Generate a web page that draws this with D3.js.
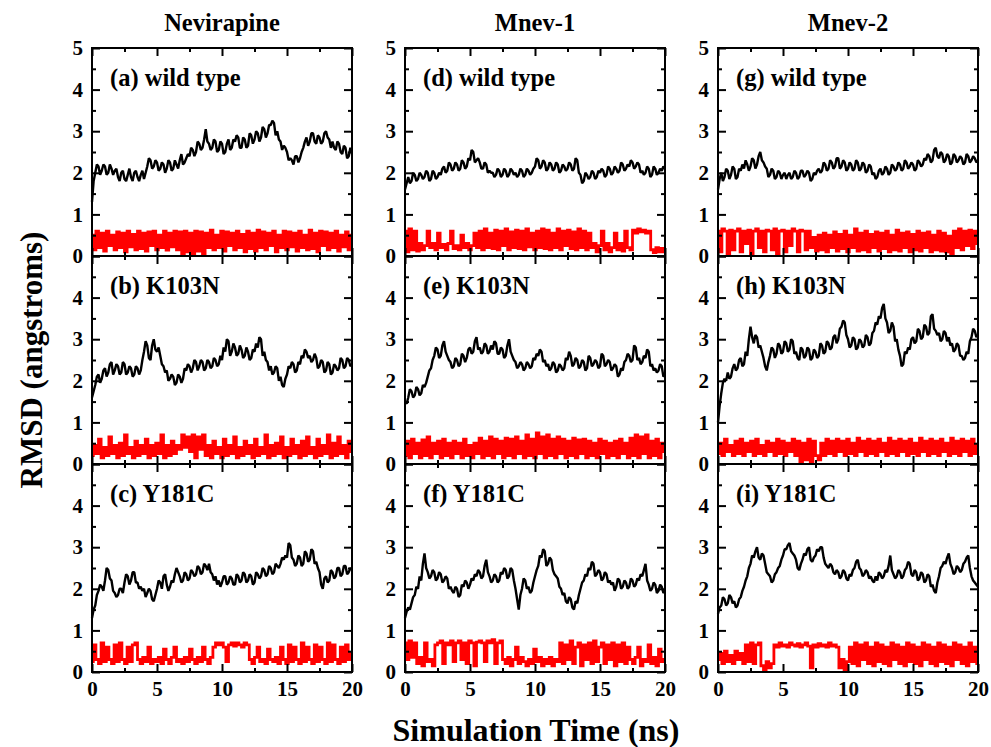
<!DOCTYPE html>
<html>
  <head>
    <meta charset="utf-8">
    <title>RMSD panels</title>
    <script src="https://d3js.org/d3.v7.min.js"></script>
    <style>
      body { margin: 0; background: #fff; }
    </style>
  </head>
  <body>
    <div id="chart"></div>
    <script>
      // column / row labels
      const columns = ["Nevirapine", "Mnev-1", "Mnev-2"];
      const labels = ["(a) wild type", "(b) K103N", "(c) Y181C",
                      "(d) wild type", "(e) K103N", "(f) Y181C",
                      "(g) wild type", "(h) K103N", "(i) Y181C"];
      const xTicks = [0, 5, 10, 15, 20];
      const xMinor = [2.5, 7.5, 12.5, 17.5];
      const yTicks = [0, 1, 2, 3, 4, 5];
      const yMinor = [0.5, 1.5, 2.5, 3.5, 4.5];

      // black traces, one value every 0.125 ns
      const blackA = [1.3,1.8,2.0,2.2,2.15,1.95,2.05,2.2,2.15,1.95,2.0,2.2,2.1,1.95,2.05,2.1,1.9,1.8,2.0,2.05,
        1.85,1.8,1.95,2.1,1.9,1.8,2.0,2.05,1.9,1.8,1.95,2.05,1.85,2.0,2.15,2.35,2.3,2.1,2.15,2.3,
        2.25,2.05,2.1,2.25,2.2,2.0,2.1,2.3,2.25,2.05,2.1,2.3,2.2,2.1,2.3,2.45,2.2,2.25,2.35,2.45,
        2.4,2.6,2.55,2.4,2.5,2.75,2.7,2.55,2.6,2.8,3.05,2.75,2.7,2.55,2.6,2.8,2.75,2.5,2.55,2.75,
        2.7,2.45,2.5,2.7,2.8,2.55,2.6,2.8,2.75,2.9,2.85,2.6,2.6,2.85,2.8,2.6,2.65,2.95,2.9,2.7,
        2.8,3.0,2.95,2.75,2.85,3.1,3.05,2.85,2.95,3.15,3.15,3.25,3.2,2.9,3.0,2.8,2.75,2.55,2.65,2.6,
        2.5,2.3,2.35,2.3,2.2,2.4,2.4,2.25,2.35,2.5,2.6,2.75,2.85,2.65,2.75,2.95,2.95,2.75,2.7,2.9,
        2.85,2.7,2.75,2.95,3.0,2.85,2.8,2.6,2.75,2.6,2.55,2.75,2.7,2.5,2.45,2.65,2.6,2.35,2.4,2.6,2.5];
      const blackB = [1.6,1.75,1.9,2.1,2.15,1.95,2.05,2.25,2.3,2.1,2.2,2.4,2.45,2.15,2.25,2.4,2.35,2.15,2.2,2.45,
        2.4,2.15,2.2,2.35,2.3,2.1,2.15,2.35,2.3,2.15,2.25,2.5,2.7,2.95,2.85,2.55,2.5,2.85,3.0,2.75,
        2.7,2.8,2.6,2.4,2.35,2.2,2.25,2.0,2.05,2.15,2.1,1.9,1.95,2.15,2.1,1.95,2.05,2.3,2.25,2.4,
        2.35,2.2,2.3,2.5,2.45,2.25,2.35,2.5,2.45,2.25,2.3,2.5,2.45,2.3,2.35,2.55,2.5,2.35,2.4,2.6,
        2.5,2.8,2.7,3.0,2.95,2.6,2.7,2.9,2.8,2.6,2.65,2.85,2.75,2.55,2.6,2.8,2.7,2.5,2.55,2.75,
        2.7,2.9,2.8,3.05,3.0,2.6,2.7,2.5,2.45,2.25,2.35,2.15,2.2,2.35,2.3,2.0,2.1,1.9,1.85,2.05,
        2.15,2.35,2.3,2.45,2.4,2.2,2.25,2.45,2.4,2.6,2.55,2.75,2.7,2.55,2.6,2.45,2.5,2.65,2.55,2.3,
        2.35,2.5,2.45,2.2,2.25,2.45,2.4,2.15,2.2,2.4,2.35,2.25,2.3,2.55,2.5,2.3,2.35,2.55,2.5,2.35,2.4];
      const blackC = [1.3,1.5,1.6,1.85,1.95,2.1,2.05,1.95,2.2,2.5,2.45,2.25,2.2,1.95,1.9,1.8,1.85,2.0,2.0,1.9,
        2.15,2.35,2.3,2.1,2.2,2.4,2.4,2.15,2.15,2.0,2.05,1.95,2.0,1.8,1.9,2.0,1.95,1.75,1.7,1.85,
        2.0,2.2,2.15,2.0,2.3,2.35,2.1,1.95,2.05,2.2,2.15,2.35,2.5,2.4,2.3,2.15,2.2,2.4,2.35,2.2,
        2.25,2.45,2.4,2.3,2.35,2.55,2.5,2.35,2.4,2.6,2.55,2.45,2.6,2.4,2.35,2.2,2.3,2.1,2.2,2.05,
        2.15,2.3,2.3,2.1,2.15,2.3,2.25,2.1,2.1,2.35,2.3,2.15,2.2,2.4,2.35,2.15,2.2,2.35,2.3,2.1,
        2.15,2.4,2.35,2.25,2.3,2.5,2.45,2.3,2.35,2.55,2.5,2.35,2.4,2.6,2.55,2.5,2.6,2.75,2.7,2.8,
        2.75,3.1,3.05,2.75,2.7,2.55,2.6,2.8,2.75,2.55,2.6,2.9,2.85,2.65,2.7,2.95,2.9,2.6,2.65,2.5,
        2.4,2.1,2.0,2.25,2.3,2.15,2.2,2.45,2.4,2.25,2.3,2.5,2.5,2.3,2.35,2.55,2.55,2.35,2.4,2.5,2.45];
      const blackD = [1.6,1.75,1.9,1.75,1.8,2.0,1.95,1.8,1.85,2.0,1.95,1.85,1.9,2.05,2.0,1.8,1.85,2.05,2.0,1.85,
        1.9,2.0,1.95,2.1,2.15,2.0,2.05,2.25,2.2,2.05,2.1,2.25,2.2,2.05,2.1,2.3,2.25,2.1,2.15,2.35,
        2.3,2.55,2.5,2.25,2.3,2.35,2.25,2.1,2.1,2.25,2.2,2.0,2.05,2.0,2.0,1.9,1.95,2.1,2.05,1.9,
        1.95,2.1,2.05,1.9,1.95,2.1,2.05,1.95,2.0,1.9,1.95,2.1,2.05,1.9,1.95,2.1,2.05,1.95,2.0,2.1,
        2.15,2.35,2.3,2.1,2.15,2.3,2.25,2.05,2.1,2.25,2.2,2.05,2.1,2.25,2.2,2.0,2.05,2.2,2.15,2.05,
        2.1,2.25,2.2,2.05,2.1,2.35,2.3,2.0,1.95,1.75,1.8,2.0,1.95,1.85,1.9,2.05,2.0,1.85,1.9,2.05,
        2.0,2.1,2.05,1.9,1.95,2.15,2.1,1.95,2.0,2.15,2.1,2.0,2.05,2.25,2.2,2.05,2.1,2.2,2.15,2.3,
        2.25,2.1,2.15,2.25,2.2,2.0,2.05,1.95,2.0,2.15,2.1,1.9,1.95,2.15,2.1,1.95,2.0,2.1,2.05,2.15,2.1];
      const blackE = [1.5,1.45,1.6,1.8,1.75,1.6,1.65,1.85,1.8,1.65,1.7,1.9,1.85,1.95,2.1,2.25,2.3,2.5,2.6,2.8,
        2.75,2.55,2.6,2.85,2.95,2.7,2.6,2.5,2.45,2.3,2.35,2.55,2.5,2.35,2.4,2.65,2.6,2.45,2.55,2.75,
        2.8,2.65,2.7,2.95,3.05,2.75,2.8,2.65,2.7,2.9,2.85,2.65,2.7,2.85,2.75,2.95,2.9,2.65,2.65,2.8,
        2.75,2.55,2.6,2.85,3.0,2.7,2.6,2.5,2.45,2.3,2.35,2.45,2.4,2.25,2.3,2.45,2.4,2.3,2.35,2.55,
        2.5,2.65,2.6,2.75,2.7,2.45,2.5,2.35,2.4,2.25,2.3,2.45,2.4,2.2,2.25,2.4,2.35,2.25,2.3,2.55,
        2.5,2.7,2.6,2.35,2.4,2.55,2.5,2.3,2.35,2.5,2.45,2.25,2.3,2.6,2.55,2.35,2.4,2.5,2.45,2.3,
        2.35,2.65,2.6,2.35,2.4,2.5,2.45,2.25,2.3,2.4,2.35,2.1,2.15,2.3,2.25,2.45,2.5,2.65,2.6,2.45,
        2.5,2.85,2.8,2.5,2.55,2.4,2.45,2.6,2.55,2.75,2.7,2.35,2.4,2.25,2.3,2.2,2.25,2.4,2.35,2.1,2.15];
      const blackF = [1.3,1.45,1.55,1.5,1.65,1.8,1.85,2.05,2.0,2.3,2.2,2.6,2.85,2.5,2.4,2.25,2.3,2.45,2.4,2.2,
        2.25,2.4,2.35,2.15,2.2,2.3,2.25,2.0,2.05,1.95,1.9,2.05,2.0,1.8,1.85,2.1,2.05,2.2,2.15,2.0,
        2.1,2.25,2.2,2.35,2.3,2.45,2.4,2.25,2.3,2.55,2.7,2.4,2.3,2.15,2.2,2.35,2.3,2.15,2.2,2.4,
        2.35,2.5,2.45,2.25,2.3,2.5,2.45,2.2,2.0,1.75,1.5,1.85,2.0,2.25,2.2,2.0,2.05,1.9,1.95,2.15,
        2.3,2.45,2.55,2.8,2.75,2.95,2.9,2.55,2.6,2.75,2.7,2.45,2.35,2.3,2.25,2.05,2.0,1.85,1.9,1.7,
        1.65,1.8,1.75,1.55,1.5,1.7,1.65,1.85,2.0,2.15,2.2,2.35,2.3,2.5,2.45,2.65,2.6,2.3,2.35,2.45,
        2.4,2.2,2.25,2.4,2.35,2.15,2.2,2.1,2.15,1.95,2.05,2.25,2.2,2.0,2.05,2.2,2.15,2.0,2.05,2.25,
        2.2,2.05,2.1,2.25,2.2,2.35,2.3,2.45,2.6,2.2,2.1,1.95,2.0,2.15,2.1,1.9,1.95,2.1,2.05,1.9,1.95];
      const blackG = [1.6,1.85,2.0,1.8,1.9,2.1,2.05,1.85,1.95,2.15,2.1,1.85,1.9,2.1,2.05,2.2,2.1,2.3,2.2,2.05,
        2.15,2.35,2.3,2.1,2.2,2.4,2.5,2.3,2.25,2.15,2.1,1.9,1.95,2.1,2.05,1.85,1.9,2.05,2.0,1.85,
        1.95,2.0,1.85,1.95,2.0,1.85,1.9,2.05,2.0,1.85,1.9,2.05,2.05,1.9,1.95,2.05,2.0,1.8,1.85,2.0,
        1.95,2.05,2.1,2.0,2.05,2.25,2.2,2.05,2.1,2.3,2.25,2.1,2.15,2.35,2.35,2.1,2.15,2.3,2.25,2.05,
        2.1,2.25,2.2,2.05,2.1,2.3,2.25,2.05,2.1,2.25,2.2,2.0,2.05,2.2,2.15,1.95,2.0,1.85,1.9,2.05,
        2.1,1.95,2.0,2.15,2.1,1.95,2.0,2.2,2.15,2.05,2.1,2.25,2.2,2.05,2.1,2.3,2.25,2.1,2.15,2.25,
        2.2,2.05,2.1,2.3,2.25,2.15,2.2,2.35,2.3,2.45,2.4,2.25,2.3,2.55,2.6,2.4,2.35,2.5,2.45,2.25,
        2.3,2.45,2.4,2.2,2.25,2.45,2.4,2.25,2.3,2.4,2.35,2.2,2.25,2.45,2.4,2.25,2.3,2.4,2.35,2.25,2.3];
      const blackH = [1.0,1.4,1.7,1.95,2.05,2.0,2.2,2.05,2.1,2.3,2.4,2.25,2.3,2.5,2.55,2.35,2.4,2.7,2.6,3.0,
        3.3,3.05,2.9,3.1,3.05,2.8,2.85,2.7,2.55,2.35,2.25,2.45,2.6,2.8,2.75,2.55,2.65,2.9,2.85,2.65,
        2.7,2.95,2.9,2.7,2.75,3.0,2.95,2.65,2.7,2.55,2.5,2.8,2.75,2.55,2.6,2.8,2.75,2.5,2.55,2.75,
        2.7,2.55,2.6,2.9,2.85,2.65,2.7,2.95,2.9,2.75,2.8,3.05,3.1,2.9,3.0,3.25,3.3,3.45,3.4,3.1,
        3.0,2.8,2.85,3.05,3.0,2.75,2.8,3.0,2.95,2.8,2.85,3.1,3.05,2.85,2.9,3.15,3.2,3.4,3.35,3.55,
        3.5,3.75,3.85,3.5,3.4,3.15,3.2,3.4,3.3,2.95,3.0,2.75,2.6,2.35,2.4,2.7,2.65,2.8,2.75,3.0,
        3.05,2.9,2.95,3.25,3.2,3.0,3.05,3.35,3.3,3.1,3.15,3.55,3.6,3.25,3.2,3.1,3.15,2.95,3.0,3.2,
        3.15,2.95,3.05,2.85,2.9,2.7,2.75,2.9,2.85,2.6,2.6,2.5,2.55,2.7,2.65,2.95,3.05,3.25,3.2,3.05,3.1];
      const blackI = [1.4,1.55,1.6,1.8,1.75,1.6,1.65,1.85,1.8,1.65,1.7,1.55,1.6,1.75,1.8,1.95,2.05,2.2,2.3,2.5,
        2.6,2.8,2.75,2.9,3.0,2.75,2.7,2.85,2.8,2.6,2.4,2.35,2.3,2.15,2.2,2.35,2.4,2.5,2.55,2.7,
        2.8,2.95,2.95,3.05,3.1,2.9,2.85,2.8,2.7,2.5,2.45,2.6,2.7,2.85,2.8,2.95,3.0,2.7,2.65,2.75,
        2.8,2.95,2.9,3.0,3.0,2.75,2.6,2.55,2.5,2.6,2.55,2.4,2.35,2.45,2.4,2.25,2.3,2.45,2.4,2.25,
        2.2,2.35,2.3,2.45,2.5,2.65,2.7,2.5,2.45,2.3,2.35,2.45,2.4,2.25,2.3,2.2,2.15,2.3,2.2,2.4,
        2.35,2.25,2.3,2.45,2.4,2.55,2.8,2.45,2.35,2.25,2.3,2.45,2.4,2.25,2.3,2.45,2.5,2.65,2.6,2.35,
        2.3,2.45,2.4,2.2,2.25,2.4,2.35,2.15,2.2,2.35,2.3,2.05,2.1,1.95,1.9,2.15,2.3,2.5,2.55,2.65,
        2.6,2.75,2.85,2.6,2.5,2.35,2.4,2.55,2.5,2.4,2.45,2.6,2.65,2.75,2.8,2.5,2.3,2.2,2.15,2.1,2.05];

      // red traces, one value every 0.2 ns
      const redA = [0.5,0.15,0.6,0.2,0.55,0.12,0.6,0.25,0.5,0.15,0.58,0.2,0.55,0.1,0.6,0.22,0.52,0.15,0.6,0.18,
        0.55,0.12,0.58,0.25,0.6,0.15,0.5,0.2,0.6,0.14,0.55,0.22,0.6,0.15,0.58,0.05,0.6,0.1,0.55,0.05,
        0.6,0.12,0.58,0.05,0.55,0.2,0.62,0.15,0.5,0.2,0.6,0.12,0.58,0.25,0.55,0.15,0.6,0.2,0.52,0.1,
        0.6,0.18,0.55,0.12,0.62,0.2,0.58,0.15,0.55,0.25,0.6,0.1,0.5,0.2,0.6,0.15,0.58,0.22,0.55,0.12,
        0.6,0.2,0.5,0.15,0.62,0.18,0.55,0.1,0.6,0.25,0.58,0.15,0.55,0.2,0.6,0.12,0.5,0.22,0.58,0.15,0.5];
      const redB = [0.2,0.45,0.25,0.6,0.15,0.4,0.2,0.65,0.25,0.45,0.15,0.5,0.2,0.7,0.25,0.4,0.15,0.55,0.2,0.45,
        0.25,0.6,0.15,0.45,0.2,0.5,0.25,0.7,0.15,0.45,0.2,0.55,0.25,0.45,0.35,0.7,0.4,0.65,0.3,0.7,
        0.15,0.65,0.35,0.7,0.2,0.45,0.15,0.55,0.25,0.4,0.15,0.6,0.2,0.45,0.25,0.65,0.15,0.4,0.2,0.55,
        0.25,0.45,0.15,0.6,0.2,0.4,0.25,0.7,0.15,0.45,0.2,0.5,0.25,0.65,0.15,0.4,0.2,0.6,0.25,0.45,
        0.15,0.55,0.2,0.65,0.25,0.4,0.15,0.6,0.2,0.45,0.25,0.7,0.15,0.5,0.2,0.65,0.25,0.45,0.15,0.55,0.3];
      const redC = [0.25,0.65,0.3,0.2,0.7,0.25,0.6,0.3,0.2,0.65,0.25,0.7,0.3,0.2,0.6,0.25,0.65,0.7,
        0.3,0.2,0.35,0.25,0.6,0.2,0.3,0.25,0.35,0.2,0.55,0.3,0.2,0.35,0.6,0.25,0.3,0.2,0.35,0.25,0.55,0.3,0.2,0.35,0.25,0.6,0.3,0.2,0.35,
        0.6,0.7,0.65,0.7,0.6,0.25,0.65,0.7,0.62,0.7,0.65,0.6,0.7,0.65,
        0.3,0.2,0.35,0.6,0.25,0.3,0.2,0.55,0.3,0.25,0.35,0.2,0.6,0.3,
        0.2,0.65,0.25,0.6,0.3,0.2,0.7,0.25,0.6,0.3,0.2,0.65,0.25,0.6,0.3,0.2,0.7,0.25,0.65,0.3,0.2,0.6,0.25,0.65,0.3,0.45];
      const redD = [0.6,0.1,0.65,0.15,0.6,0.12,
        0.3,0.15,0.25,0.6,0.2,0.3,0.15,0.55,0.2,0.28,0.15,0.3,0.6,0.18,0.25,0.15,0.5,0.2,0.3,0.15,0.25,0.55,0.2,
        0.6,0.15,0.65,0.2,0.55,0.18,0.62,0.15,0.6,0.25,0.65,0.15,0.58,0.2,0.62,0.18,0.6,0.15,0.65,0.22,0.55,0.15,
        0.6,0.2,0.65,0.18,0.62,0.15,0.55,0.2,0.65,0.15,0.6,0.25,0.62,0.18,0.58,0.15,0.65,0.2,0.6,0.15,0.55,0.2,
        0.3,0.1,0.25,0.6,0.15,0.3,0.1,0.2,0.55,0.15,0.3,0.12,0.6,0.2,0.15,
        0.62,0.55,0.65,0.58,0.62,0.55,0.6,
        0.15,0.08,0.2,0.1,0.18,0.1];
      const redE = [0.2,0.55,0.15,0.6,0.25,0.5,0.15,0.58,0.2,0.65,0.15,0.5,0.25,0.55,0.15,0.6,0.2,0.5,0.15,0.55,
        0.25,0.5,0.15,0.6,0.2,0.45,0.15,0.5,0.25,0.62,0.15,0.55,0.2,0.65,0.15,0.6,0.25,0.55,0.15,0.62,
        0.2,0.6,0.15,0.65,0.25,0.55,0.15,0.7,0.2,0.6,0.15,0.75,0.25,0.65,0.15,0.7,0.2,0.6,0.15,0.65,
        0.25,0.6,0.15,0.55,0.2,0.62,0.15,0.58,0.25,0.6,0.15,0.55,0.2,0.5,0.15,0.6,0.25,0.55,0.15,0.5,
        0.2,0.55,0.15,0.6,0.25,0.5,0.15,0.62,0.2,0.7,0.15,0.65,0.25,0.7,0.15,0.55,0.2,0.6,0.15,0.5,0.3];
      const redF = [0.7,0.3,0.75,0.35,0.7,
        0.2,0.35,0.15,0.7,0.25,0.3,0.15,0.65,
        0.7,0.75,0.2,0.7,0.65,0.75,0.25,0.7,0.75,0.3,0.7,0.2,0.75,0.7,0.15,0.72,0.75,0.7,0.25,0.75,0.7,0.78,0.2,0.7,0.75,
        0.3,0.2,0.35,0.15,0.3,0.6,0.2,0.35,0.25,0.15,0.3,0.2,0.55,0.25,0.35,0.15,0.3,0.2,0.35,0.15,0.3,0.25,
        0.7,0.2,0.65,0.3,0.75,0.2,0.6,0.7,0.15,0.65,0.3,0.7,0.2,0.75,0.25,0.6,0.7,0.2,0.65,0.3,0.7,0.15,0.65,0.25,0.7,0.2,0.6,0.3,
        0.2,0.35,0.6,0.15,0.3,0.25,0.65,0.2,0.35,0.15,0.55,0.25,0.3];
      const redG = [0.6,0.1,0.65,0.6,0.05,0.62,0.15,0.6,0.65,0.1,0.6,0.3,0.62,0.05,0.6,0.65,0.2,0.6,0.1,0.62,
        0.6,0.15,0.65,0.05,0.6,0.62,0.1,0.6,0.25,0.65,0.6,0.1,0.62,0.6,0.15,0.6,
        0.2,0.45,0.12,0.5,0.15,0.55,0.1,0.5,0.2,0.58,0.12,0.52,0.18,0.6,0.1,0.5,0.2,0.65,0.12,0.55,
        0.15,0.6,0.1,0.52,0.2,0.58,0.12,0.55,0.18,0.6,0.1,0.5,0.15,0.62,0.12,0.55,0.2,0.58,0.1,0.52,
        0.15,0.6,0.12,0.55,0.2,0.58,0.1,0.5,0.15,0.6,0.12,0.55,0.1,0.48,0.05,0.6,0.2,0.65,0.15,0.6,
        0.25,0.62,0.18,0.6,0.3];
      const redH = [0.25,0.5,0.2,0.6,0.3,0.45,0.2,0.55,0.25,0.6,0.2,0.5,0.3,0.55,0.2,0.6,0.25,0.45,0.2,0.55,
        0.3,0.5,0.2,0.6,0.25,0.55,0.2,0.5,0.3,0.6,0.2,0.55,0.05,0.5,0.1,0.6,0.05,0.55,0.2,0.1,
        0.5,0.2,0.6,0.25,0.55,0.2,0.6,0.3,0.55,0.2,0.6,0.25,0.5,0.2,0.62,0.3,0.55,0.2,0.6,0.25,
        0.55,0.2,0.6,0.3,0.5,0.2,0.62,0.25,0.55,0.2,0.6,0.3,0.55,0.2,0.6,0.25,0.5,0.2,0.62,0.3,
        0.55,0.2,0.6,0.25,0.55,0.2,0.6,0.3,0.5,0.2,0.62,0.25,0.55,0.2,0.6,0.3,0.55,0.2,0.6,0.25,0.45];
      const redI = [0.3,0.45,0.2,0.5,0.25,0.4,0.2,0.5,0.3,0.45,
        0.2,0.65,0.25,0.7,0.2,0.65,0.7,
        0.15,0.05,0.25,0.1,0.2,
        0.65,0.6,0.7,0.62,0.65,0.6,0.7,0.65,0.62,0.68,0.6,0.65,0.7,0.62,0.1,0.65,0.6,0.68,0.62,0.65,0.6,0.7,0.62,0.65,0.6,
        0.1,0.3,0.05,0.25,
        0.6,0.2,0.7,0.15,0.65,0.3,0.7,0.2,0.6,0.15,0.7,0.25,0.65,0.2,0.6,0.15,0.7,0.3,0.65,0.2,
        0.6,0.15,0.7,0.25,0.65,0.2,0.6,0.15,0.7,0.3,0.65,0.2,0.6,0.15,0.7,0.25,0.65,0.2,0.6,0.15,
        0.7,0.3,0.65,0.2,0.6,0.15,0.7,0.25,0.6,0.2];

      const blacks = [blackA, blackB, blackC, blackD, blackE, blackF, blackG, blackH, blackI];
      const reds = [redA, redB, redC, redD, redE, redF, redG, redH, redI];

      const width = 991, height = 747;
      const colX = [92, 405, 718], rowY = [48, 256, 464];
      const pw = 260, ph = 208;
      const font = '"Liberation Serif", "Times New Roman", Times, serif';

      const svg = d3.select("#chart")
        .append("svg")
        .attr("width", width)
        .attr("height", height)
        .attr("font-family", font)
        .attr("font-weight", "bold");

      blacks.forEach((black, k) => {
        const col = Math.floor(k / 3), row = k % 3;
        const x0 = colX[col], y0 = rowY[row];
        const x = d3.scaleLinear().domain([0, 20]).range([x0, x0 + pw]);
        const y = d3.scaleLinear().domain([0, 5]).range([y0 + ph, y0]);
        const g = svg.append("g");

        const line = d3.line()
          .x((d, i, arr) => x(i * 20 / (arr.length - 1)))
          .y(d => y(d));

        // red trace flips fast, so draw it as steps (dense vertical strokes)
        g.append("path").datum(reds[k])
          .attr("d", line.curve(d3.curveStep)).attr("fill", "none")
          .attr("stroke", "#ff0000").attr("stroke-width", 2.8);
        g.append("path").datum(black)
          .attr("d", line.curve(d3.curveLinear)).attr("fill", "none")
          .attr("stroke", "#000").attr("stroke-width", 2.4)
          .attr("stroke-linejoin", "bevel");

        // inward ticks on all four sides
        const addAxis = (axis, tx, ty, size, vals, fmt) => {
          const a = g.append("g")
            .attr("transform", `translate(${tx},${ty})`)
            .call(axis.tickValues(vals).tickSizeInner(-size).tickSizeOuter(0)
              .tickPadding(9).tickFormat(fmt));
          a.select(".domain").remove();
          a.selectAll("line").attr("stroke", "#000").attr("stroke-width", 2);
          a.selectAll("text")
            .attr("font-family", font).attr("font-weight", "bold")
            .attr("font-size", 21).attr("fill", "#000");
        };
        const none = () => "";
        addAxis(d3.axisLeft(y), x0, 0, 8, yTicks, d => (row > 0 && d === 5) ? "" : d);
        addAxis(d3.axisLeft(y), x0, 0, 4, yMinor, none);
        addAxis(d3.axisRight(y), x0 + pw, 0, 8, yTicks, none);
        addAxis(d3.axisRight(y), x0 + pw, 0, 4, yMinor, none);
        addAxis(d3.axisTop(x), 0, y0, 8, xTicks, none);
        addAxis(d3.axisTop(x), 0, y0, 4, xMinor, none);
        addAxis(d3.axisBottom(x), 0, y0 + ph, 8, xTicks, row === 2 ? (d => d) : none);
        addAxis(d3.axisBottom(x), 0, y0 + ph, 4, xMinor, none);

        g.append("rect")
          .attr("x", x0).attr("y", y0).attr("width", pw).attr("height", ph)
          .attr("fill", "none").attr("stroke", "#000").attr("stroke-width", 2);

        g.append("text")
          .attr("x", x0 + 18).attr("y", y0 + 38)
          .attr("font-size", 24.5)
          .text(labels[k]);
      });

      columns.forEach((c, i) => {
        svg.append("text")
          .attr("x", colX[i] + pw / 2).attr("y", 31)
          .attr("text-anchor", "middle")
          .attr("font-size", 24.5)
          .text(c);
      });

      svg.append("text")
        .attr("transform", "translate(42,360) rotate(-90)")
        .attr("text-anchor", "middle")
        .attr("font-size", 31)
        .text("RMSD (angstroms)");

      svg.append("text")
        .attr("x", 536).attr("y", 741)
        .attr("text-anchor", "middle")
        .attr("font-size", 32)
        .text("Simulation Time (ns)");
    </script>
  </body>
</html>
